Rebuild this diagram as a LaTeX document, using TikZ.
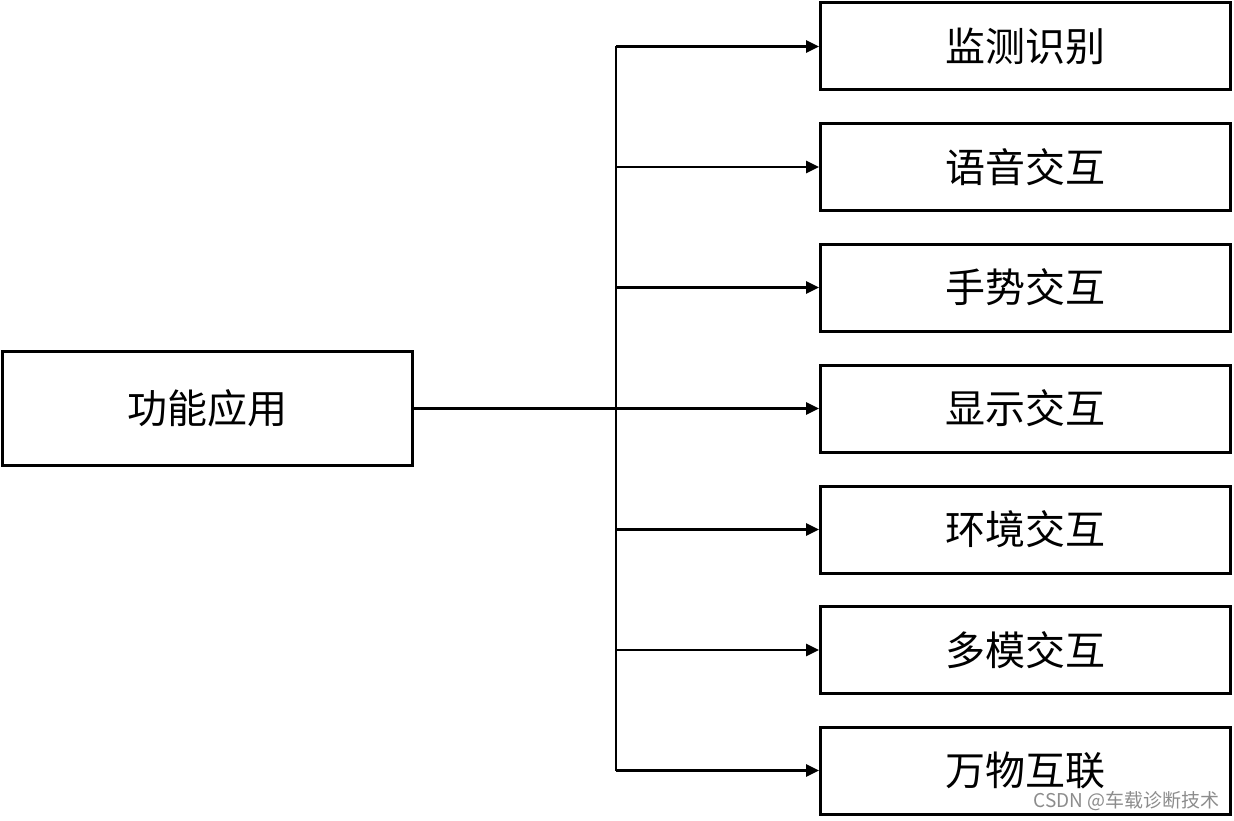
\documentclass[tikz,border=0pt]{standalone}
\usepackage{fontspec}
\newfontfamily\cjk{Noto Sans CJK SC}
\usetikzlibrary{arrows.meta}
\begin{document}
\begin{tikzpicture}[x=1pt,y=-1pt,
  box/.style={draw,line width=3pt,minimum width=410pt,minimum height=87pt,inner sep=0pt,font=\cjk\fontsize{40}{44}\selectfont},
  bigbox/.style={box,minimum height=114pt},
  conn/.style={line width=2.8pt},
  arr/.style={conn,-{Triangle[length=13pt,width=12pt]}}]
\useasboundingbox (0,0) rectangle (1234,821);
\node[bigbox] (root) at (207.5,408.5) {功能应用};
\node[box] (b1) at (1025.5,46.5) {监测识别};
\node[box] (b2) at (1025.5,167) {语音交互};
\node[box] (b3) at (1025.5,287.5) {手势交互};
\node[box] (b4) at (1025.5,408.5) {显示交互};
\node[box] (b5) at (1025.5,529.5) {环境交互};
\node[box] (b6) at (1025.5,650) {多模交互};
\node[box] (b7) at (1025.5,770.5) {万物互联};
\coordinate (top) at (616,46.5);
\coordinate (bot) at (616,770.5);
\draw[conn] (top) -- (bot);
\draw[conn] (root.east) -- (616,408.5);
\foreach \i in {1,...,7}{
  \draw[arr] (b\i.west -| top) -- (b\i.west);
}
\node[text=black!45,font=\cjk\fontsize{19}{21}\selectfont,anchor=east,inner sep=0pt] (wm) at (1220,801) {CSDN @车载诊断技术};
\end{tikzpicture}
\end{document}
